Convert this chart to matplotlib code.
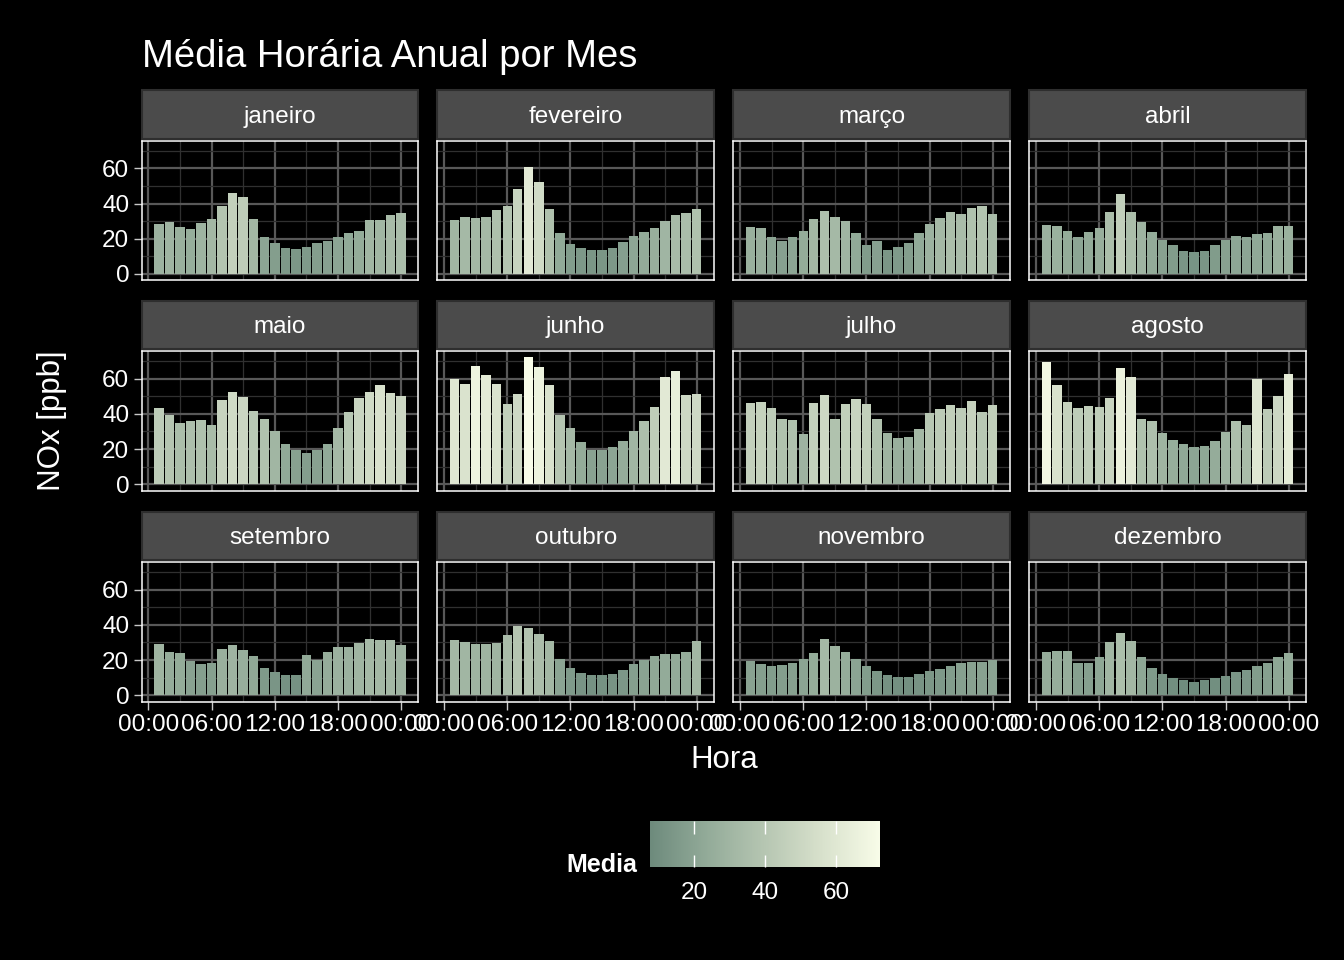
import numpy as np
import matplotlib
matplotlib.use("Agg")
import matplotlib.pyplot as plt
from matplotlib.colors import LinearSegmentedColormap, Normalize
from matplotlib.cm import ScalarMappable
from matplotlib.patches import Rectangle

plt.rcParams['font.family'] = ['Liberation Sans', 'DejaVu Sans']

# dados (NOx medio por hora, cada mes)
meses = ["janeiro", "fevereiro", "março", "abril", "maio", "junho",
         "julho", "agosto", "setembro", "outubro", "novembro", "dezembro"]
horas = list(range(1, 25))
tick_horas = [0, 6, 12, 18, 24]
tick_labels = ["00:00", "06:00", "12:00", "18:00", "00:00"]

janeiro = [28.3, 29.4, 26.6, 25.5, 28.9, 31.1, 38.5, 45.8, 43.6, 31.1, 20.9, 17.5,
           14.7, 14.2, 15.3, 17.5, 18.7, 20.9, 23.2, 24.3, 30.6, 30.6, 33.4, 34.5]
fevereiro = [30.6, 32.3, 31.7, 32.3, 36.2, 38.5, 48.1, 61.1, 52.1, 36.8, 23.2, 17.0,
             14.7, 13.6, 13.6, 14.7, 18.1, 21.5, 23.8, 26.0, 30.0, 33.4, 34.5, 36.8]
marco = [26.6, 26.0, 20.9, 18.7, 20.9, 24.3, 31.1, 35.7, 32.3, 30.0, 23.2, 16.4,
         18.7, 13.6, 15.3, 17.5, 23.2, 28.3, 31.7, 35.1, 34.0, 37.4, 38.5, 34.0]
abril = [27.7, 27.2, 24.3, 20.9, 23.8, 26.0, 35.1, 45.3, 35.1, 29.4, 23.8, 19.2,
         16.4, 13.0, 12.5, 13.0, 16.4, 19.2, 21.5, 20.9, 22.6, 23.2, 27.2, 27.2]
maio = [43.4, 39.5, 35.0, 36.1, 36.7, 33.8, 47.9, 52.4, 49.6, 41.7, 37.2, 30.5,
        23.1, 19.2, 17.5, 19.2, 23.1, 32.1, 41.2, 49.1, 52.4, 56.4, 51.9, 50.2]
junho = [59.8, 57.0, 67.1, 62.0, 57.0, 45.7, 51.3, 72.2, 66.5, 56.4, 39.5, 32.1,
         24.2, 19.7, 19.7, 20.9, 24.8, 30.5, 36.1, 44.0, 60.9, 64.3, 50.8, 51.3]
julho = [46.2, 46.8, 43.4, 37.2, 36.7, 28.8, 46.2, 50.8, 37.2, 45.7, 48.5, 45.7,
         37.2, 29.3, 26.5, 27.1, 31.6, 40.6, 42.9, 45.1, 43.4, 47.4, 41.2, 45.1]
agosto = [69.4, 56.4, 46.8, 43.4, 44.5, 44.0, 49.1, 66.0, 60.9, 37.2, 36.1, 29.3,
          25.4, 22.6, 20.9, 22.0, 24.8, 29.9, 36.1, 33.8, 59.8, 42.9, 50.2, 62.6]
setembro = [29.2, 24.7, 24.2, 19.6, 17.9, 18.5, 26.4, 28.7, 25.8, 22.5, 15.7, 13.4,
            11.7, 11.7, 23.0, 20.2, 24.7, 27.5, 27.5, 29.8, 32.1, 31.5, 31.5, 28.7]
outubro = [31.5, 30.4, 29.2, 29.2, 29.8, 34.3, 39.4, 38.3, 34.9, 30.9, 20.8, 15.7,
           12.8, 11.7, 11.7, 12.3, 14.5, 17.9, 20.2, 22.5, 23.6, 23.6, 24.7, 30.9]
novembro = [19.6, 17.9, 16.8, 17.4, 18.5, 20.8, 24.2, 32.1, 28.1, 24.7, 20.8, 16.8,
            14.0, 11.7, 10.6, 10.6, 12.3, 14.0, 15.1, 16.8, 18.5, 19.1, 19.1, 20.2]
dezembro = [24.7, 25.3, 25.3, 18.5, 18.5, 21.9, 30.4, 35.5, 30.9, 21.9, 15.7, 12.3,
            10.0, 8.9, 7.7, 8.9, 10.0, 11.1, 13.4, 14.5, 16.8, 18.5, 21.9, 24.2]

valores = [janeiro, fevereiro, marco, abril, maio, junho,
           julho, agosto, setembro, outubro, novembro, dezembro]

todos = np.concatenate(valores)
vmin, vmax = todos.min(), todos.max()
norm = Normalize(vmin, vmax)
cmap = LinearSegmentedColormap.from_list(
    "media", ["#6d8a7c", "#93ab99", "#b6c6b2", "#d8e1cc", "#f8fce8"])

W, H = 1344, 960
fig = plt.figure(figsize=(W / 100, H / 100), dpi=100, facecolor="black")


def fx(px):
    return px / W


def fy(px):
    return 1 - px / H


col_left = [141.7, 437.3, 733.3, 1029.3]
pw = 276.7
row_top = [140.7, 351.0, 562.0]
ph = 139.5
strip_h = 48.5
strip_gap = 2.0

ylim = (-0.05 * vmax, 1.05 * vmax)
xlim = (1 - 0.45 - 0.05 * 23.9, 24.45 + 0.05 * 23.9)

for k, (mes, vals) in enumerate(zip(meses, valores)):
    r, c = divmod(k, 4)
    left, top = col_left[c], row_top[r]
    ax = fig.add_axes([fx(left), fy(top + ph), pw / W, ph / H])
    ax.set_facecolor("black")
    ax.bar(horas, vals, width=0.9, color=cmap(norm(np.array(vals))), zorder=2)
    ax.set_xlim(xlim)
    ax.set_ylim(ylim)
    ax.set_xticks(tick_horas)
    ax.set_xticks([3, 9, 15, 21], minor=True)
    ax.set_yticks([0, 20, 40, 60])
    ax.set_yticks([10, 30, 50, 70], minor=True)
    ax.grid(which="major", color="#585858", lw=1.6, zorder=0)
    ax.grid(which="minor", color="#303030", lw=0.9, zorder=0)
    ax.set_axisbelow(True)
    for s in ax.spines.values():
        s.set_color("white")
        s.set_linewidth(1.1)
    ax.tick_params(which="minor", length=0)
    ax.tick_params(which="major", colors="#c8c8c8", labelcolor="white",
                   labelsize=17.5, length=6, width=1, pad=3)
    if c == 0:
        ax.set_yticklabels(["0", "20", "40", "60"])
    else:
        ax.tick_params(axis="y", length=0, labelleft=False)
    if r == 2:
        ax.set_xticklabels(tick_labels)
    else:
        ax.tick_params(axis="x", length=0, labelbottom=False)

    # faixa do titulo do painel
    sy = top - strip_gap - strip_h
    fig.patches.append(Rectangle((fx(left), fy(sy + strip_h)), pw / W, strip_h / H,
                                 transform=fig.transFigure, facecolor="#4b4b4b",
                                 edgecolor="#2e2e2e", lw=1.5, zorder=1))
    fig.text(fx(left + pw / 2), fy(sy + strip_h / 2 + 2.5), mes, color="white",
             fontsize=17.5, ha="center", va="center")

fig.text(fx(142), fy(67), "Média Horária Anual por Mes", color="white",
         fontsize=27.5, ha="left", va="baseline")
fig.text(fx(723.8), fy(760), "Hora", color="white", fontsize=22.5,
         ha="center", va="center")
fig.text(fx(52), fy(421), "NOx [ppb]", color="white", fontsize=22.5,
         ha="center", va="center", rotation=90)

# legenda (barra de cores)
cax = fig.add_axes([fx(650), fy(867), 230 / W, 46 / H])
sm = ScalarMappable(norm=norm, cmap=cmap)
cb = fig.colorbar(sm, cax=cax, orientation="horizontal")
cb.outline.set_visible(False)
cb.set_ticks([20, 40, 60])
cax.tick_params(axis="x", direction="in", top=True, bottom=True, color="white",
                length=9, width=1, labelcolor="white", labelsize=17.5, pad=11)
fig.text(fx(637), fy(865), "Media", color="white", fontsize=18,
         fontweight="bold", ha="right", va="center")

fig.savefig("out.png", dpi=100, facecolor="black")
